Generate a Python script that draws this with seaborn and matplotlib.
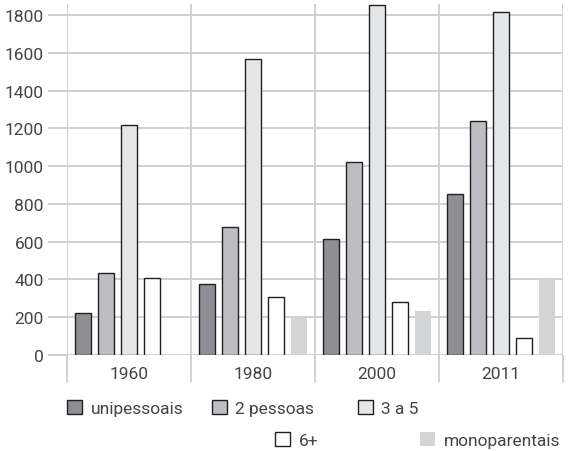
import pandas as pd
import matplotlib
matplotlib.use("Agg")
import matplotlib.pyplot as plt
from matplotlib.patches import Patch
from matplotlib.ticker import FixedLocator
import seaborn as sns

sns.set_theme(style="white")
plt.rcParams['font.family'] = ['Roboto', 'DejaVu Sans']

# data
years = ['1960', '1980', '2000', '2011']
groups = ['unipessoais', '2 pessoas', '3 a 5', '6+', 'monoparentais']
unipessoais = [220, 375, 615, 850]
dois_pessoas = [435, 680, 1020, 1240]
tres_a_cinco = [1215, 1565, 1855, 1815]
seis_mais = [405, 305, 280, 90]
monoparentais = [None, 200, 235, 400]

colors = {
    'unipessoais': '#8e8f92',
    '2 pessoas': '#bdbec1',
    '3 a 5': '#e5e6e7',
    '6+': '#ffffff',
    'monoparentais': '#d3d4d5',
}
edge = '#231f20'
grid_c = '#cfd0d2'
text_c = '#444444'
fs = 12.5

rows = []
for name, vals in zip(groups, [unipessoais, dois_pessoas, tres_a_cinco, seis_mais, monoparentais]):
    for y, v in zip(years, vals):
        if v is not None:
            rows.append({'ano': y, 'tipo': name, 'valor': v})
df = pd.DataFrame(rows)

fig = plt.figure(figsize=(5.68, 4.52), dpi=100)
ax = fig.add_axes([67 / 568, 1 - 356 / 452, (563 - 67) / 568, (356 - 5) / 452])

sns.barplot(data=df, x='ano', y='valor', hue='tipo', order=years, hue_order=groups,
            palette=colors, width=0.93, gap=0.33, saturation=1, legend=False, ax=ax)

for cont, name in zip(ax.containers, groups):
    for bar in cont:
        if name == 'monoparentais':
            bar.set_edgecolor('none')
            bar.set_linewidth(0)
        else:
            bar.set_edgecolor(edge)
            bar.set_linewidth(1.0)
        bar.set_zorder(3)

ax.set_ylim(0, 1858)
ax.set_xlim(-0.5, 3.5)
ax.set_yticks(range(0, 1801, 200))
ax.xaxis.set_minor_locator(FixedLocator([-0.5, 0.5, 1.5, 2.5, 3.5]))
ax.grid(True, axis='y', which='major', color=grid_c, linewidth=1.4)
ax.grid(True, axis='x', which='minor', color=grid_c, linewidth=1.4)
ax.grid(False, axis='x', which='major')
ax.set_axisbelow(True)
for s in ax.spines.values():
    s.set_visible(False)

ax.tick_params(axis='y', which='major', length=13.7, width=1.4, color=grid_c,
               pad=3, labelsize=fs, labelcolor=text_c, left=True)
ax.tick_params(axis='x', which='minor', length=19.4, width=1.4, color=grid_c,
               direction='out', bottom=True)
ax.tick_params(axis='x', which='major', length=0, pad=8, labelsize=fs, labelcolor=text_c)
ax.set_xlabel('')
ax.set_ylabel('')

def handle(name):
    if name == 'monoparentais':
        return Patch(facecolor=colors[name], edgecolor='none')
    return Patch(facecolor=colors[name], edgecolor=edge, linewidth=1.0)

leg_kw = dict(frameon=False, fontsize=fs, labelcolor=text_c, handlelength=0.85,
              handleheight=0.85, handletextpad=0.5, borderpad=0, borderaxespad=0,
              loc='center left')

# legend items placed like the reference: three on the first row, two on the second
leg_pos = {
    'unipessoais': (67, 409),
    '2 pessoas': (212, 409),
    '3 a 5': (358, 409),
    '6+': (275, 441),
    'monoparentais': (420, 441),
}
for g in groups:
    px, py = leg_pos[g]
    fig.legend([handle(g)], [g], bbox_to_anchor=(px / 568, 1 - py / 452), **leg_kw)

fig.savefig('out.png', dpi=100)
